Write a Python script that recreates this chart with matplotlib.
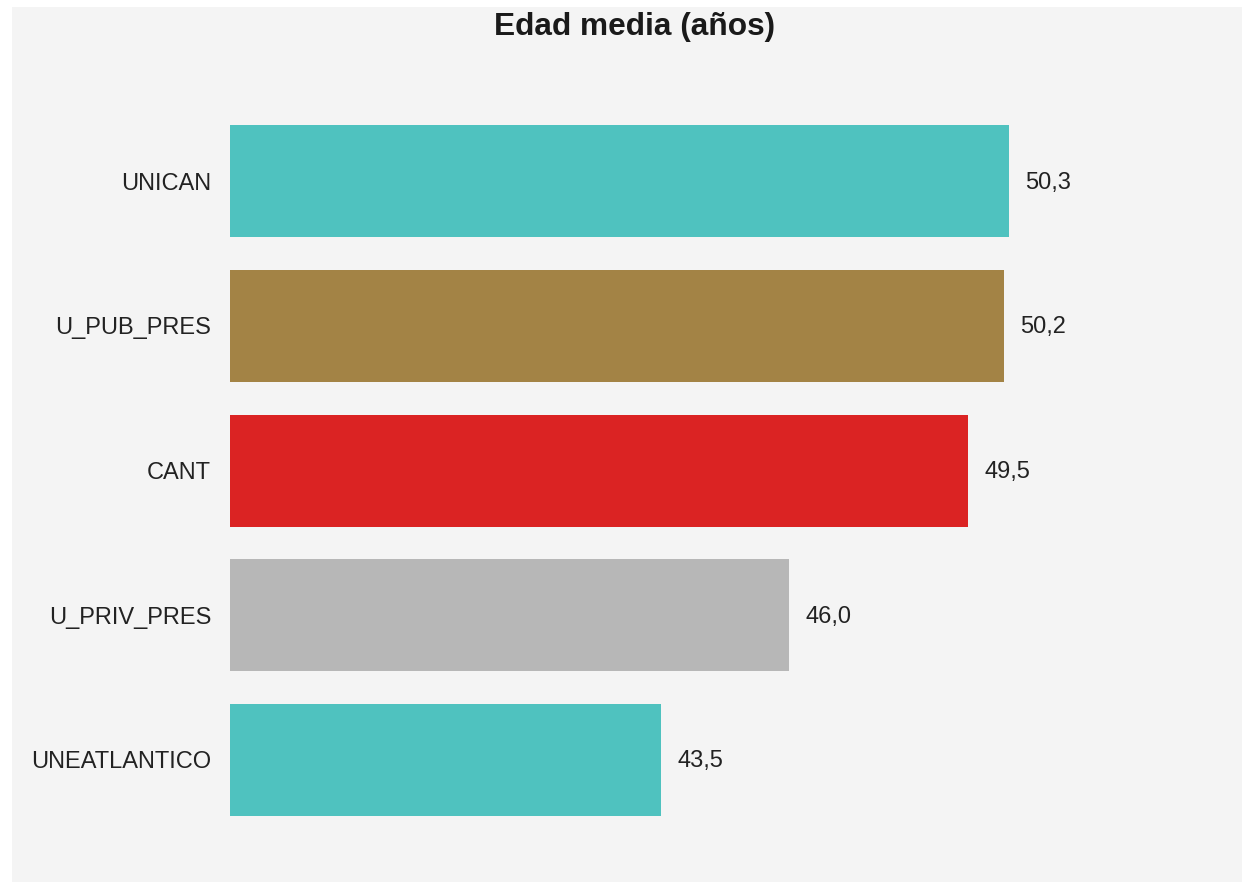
import matplotlib
matplotlib.use("Agg")
import matplotlib.pyplot as plt
from matplotlib.patches import Rectangle

categories = ["UNICAN", "U_PUB_PRES", "CANT", "U_PRIV_PRES", "UNEATLANTICO"]
values = [50.3, 50.2, 49.5, 46.0, 43.5]
colors = ["#4fc2bf", "#a38345", "#db2323", "#b7b7b7", "#4fc2bf"]
title = "Edad media (años)"

plt.rcParams['font.family'] = ['Liberation Sans', 'DejaVu Sans']

W, H = 1242, 883
fig = plt.figure(figsize=(W / 100, H / 100), dpi=100)
fig.patch.set_facecolor("white")

# gray panel
panel = Rectangle((12 / W, 1 / H), (1242 - 12) / W, (882 - 7) / H,
                  transform=fig.transFigure, facecolor="#f4f4f4",
                  edgecolor="none", zorder=-10)
fig.add_artist(panel)

spacing = 144.75
top_px = 181 - spacing / 2
bot_px = 760 + spacing / 2
left_px, right_px = 230, 1230
ax = fig.add_axes([left_px / W, 1 - bot_px / H, (right_px - left_px) / W, (bot_px - top_px) / H])
ax.set_facecolor("none")
ax.set_zorder(1)

x0 = 35.08
scale = 51.2
ax.set_xlim(x0, x0 + (right_px - left_px) / scale)
ax.set_ylim(len(categories) - 0.5, -0.5)

ypos = list(range(len(categories)))
ax.barh(ypos, [v - x0 for v in values], left=x0, height=112 / spacing, color=colors)

for y, v in zip(ypos, values):
    ax.text(v + 16 / scale, y + 1.5 / spacing, f"{v:.1f}".replace(".", ","),
            va="center", ha="left", fontsize=17, color="#222222")

ax.set_yticks(ypos)
ax.set_yticklabels(categories, fontsize=17, color="#222222")
ax.tick_params(axis="y", length=0, pad=13.5)
ax.set_xticks([])
for s in ax.spines.values():
    s.set_visible(False)

fig.text(635 / W, 1 - 27 / H, title, ha="center", va="center", fontsize=22.8,
         fontweight="bold", color="#1a1a1a", zorder=2)

fig.savefig("out.png", dpi=100)
